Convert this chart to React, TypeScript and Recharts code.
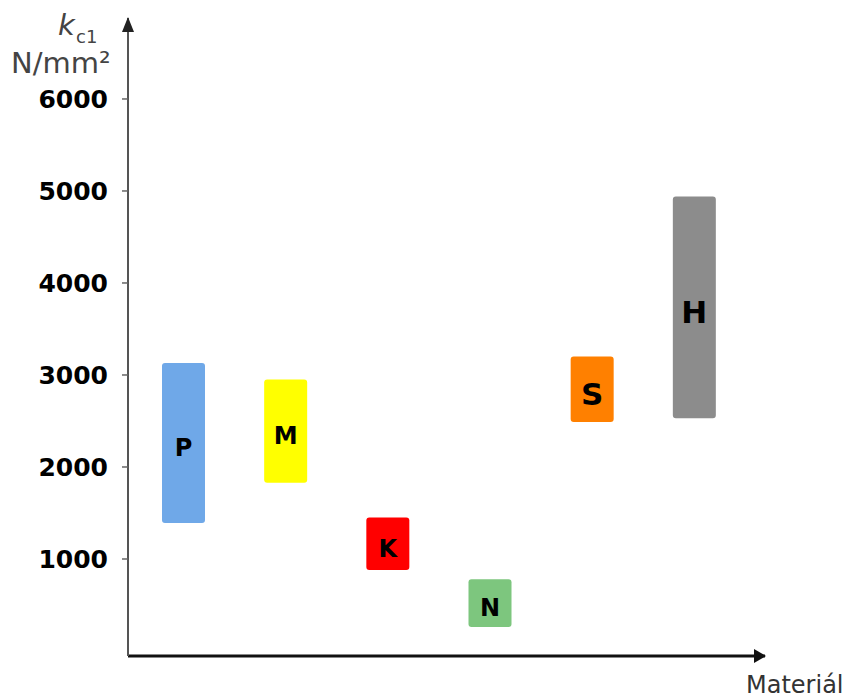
import { BarChart, Bar, XAxis, YAxis, LabelList, Cell } from 'recharts';

const materials = ['P', 'M', 'K', 'N', 'S', 'H'];
const kcLow = [1390, 1830, 880, 260, 2490, 2530];
const kcHigh = [3130, 2950, 1450, 780, 3200, 4940];
const yTicks = [1000, 2000, 3000, 4000, 5000, 6000];

const fills: Record<string, string> = {
  P: '#6fa8e8', M: '#ffff00', K: '#ff0000', N: '#7dc67e', S: '#ff8000', H: '#8c8c8c',
};
const labelSizes: Record<string, number> = { P: 24, M: 24, K: 24, N: 24, S: 31, H: 31 };

const data = materials.map((m, i) => ({ material: m, range: [kcLow[i], kcHigh[i]] }));

const font = '"DejaVu Sans", Verdana, sans-serif';

function BarLetter(props: any) {
  const { x, y, width, height, value } = props;
  return (
    <text
      x={x + width / 2}
      y={y + height / 2 + 5}
      textAnchor="middle"
      dominantBaseline="central"
      fontFamily={font}
      fontWeight="bold"
      fontSize={labelSizes[value]}
      fill="#000"
    >
      {value}
    </text>
  );
}

export default function App() {
  return (
    <div style={{ position: 'absolute', left: 0, top: 0, width: 848, height: 700, background: '#fff' }}>
      <BarChart width={848} height={700} data={data} margin={{ top: 18, right: 83, left: 0, bottom: 0 }}>
        <defs>
          <marker id="arrowX" viewBox="0 0 12 14" refX="11" refY="7" markerWidth="12" markerHeight="14"
            markerUnits="userSpaceOnUse" orient="auto">
            <path d="M0,0 L12,7 L0,14 z" fill="#111" />
          </marker>
          <marker id="arrowY" viewBox="0 0 15 12" refX="14" refY="6" markerWidth="15" markerHeight="12"
            markerUnits="userSpaceOnUse" orient="auto-start-reverse">
            <path d="M0,0 L15,6 L0,12 z" fill="#222" />
          </marker>
        </defs>
        <XAxis
          dataKey="material"
          tick={false}
          tickLine={false}
          height={44}
          padding={{ left: 4, right: 20 }}
          axisLine={{ stroke: '#111', strokeWidth: 3, markerEnd: 'url(#arrowX)' }}
        />
        <YAxis
          width={128}
          domain={[0, 6880]}
          padding={{ bottom: 5 }}
          ticks={yTicks}
          tickSize={6}
          tickMargin={14}
          tickLine={{ stroke: '#666', strokeWidth: 1.5 }}
          axisLine={{ stroke: '#555', strokeWidth: 2, markerStart: 'url(#arrowY)' }}
          tick={{ fill: '#000', fontSize: 25, fontWeight: 'bold', fontFamily: font }}
          allowDataOverflow
        />
        <Bar dataKey="range" barSize={43} radius={3} isAnimationActive={false}>
          {data.map((d) => (
            <Cell key={d.material} fill={fills[d.material]} />
          ))}
          <LabelList dataKey="material" content={<BarLetter />} />
        </Bar>
        <text x={58} y={35} fontFamily={font} fontStyle="italic" fontSize={29} fill="#444">k</text>
        <text x={76} y={43} fontFamily={font} fontSize={18} fill="#444">c1</text>
        <text x={11} y={73} fontFamily={font} fontSize={29} fill="#444">N/mm²</text>
        <text x={746} y={693} fontFamily={font} fontSize={24} fill="#333">Materiál</text>
      </BarChart>
    </div>
  );
}
